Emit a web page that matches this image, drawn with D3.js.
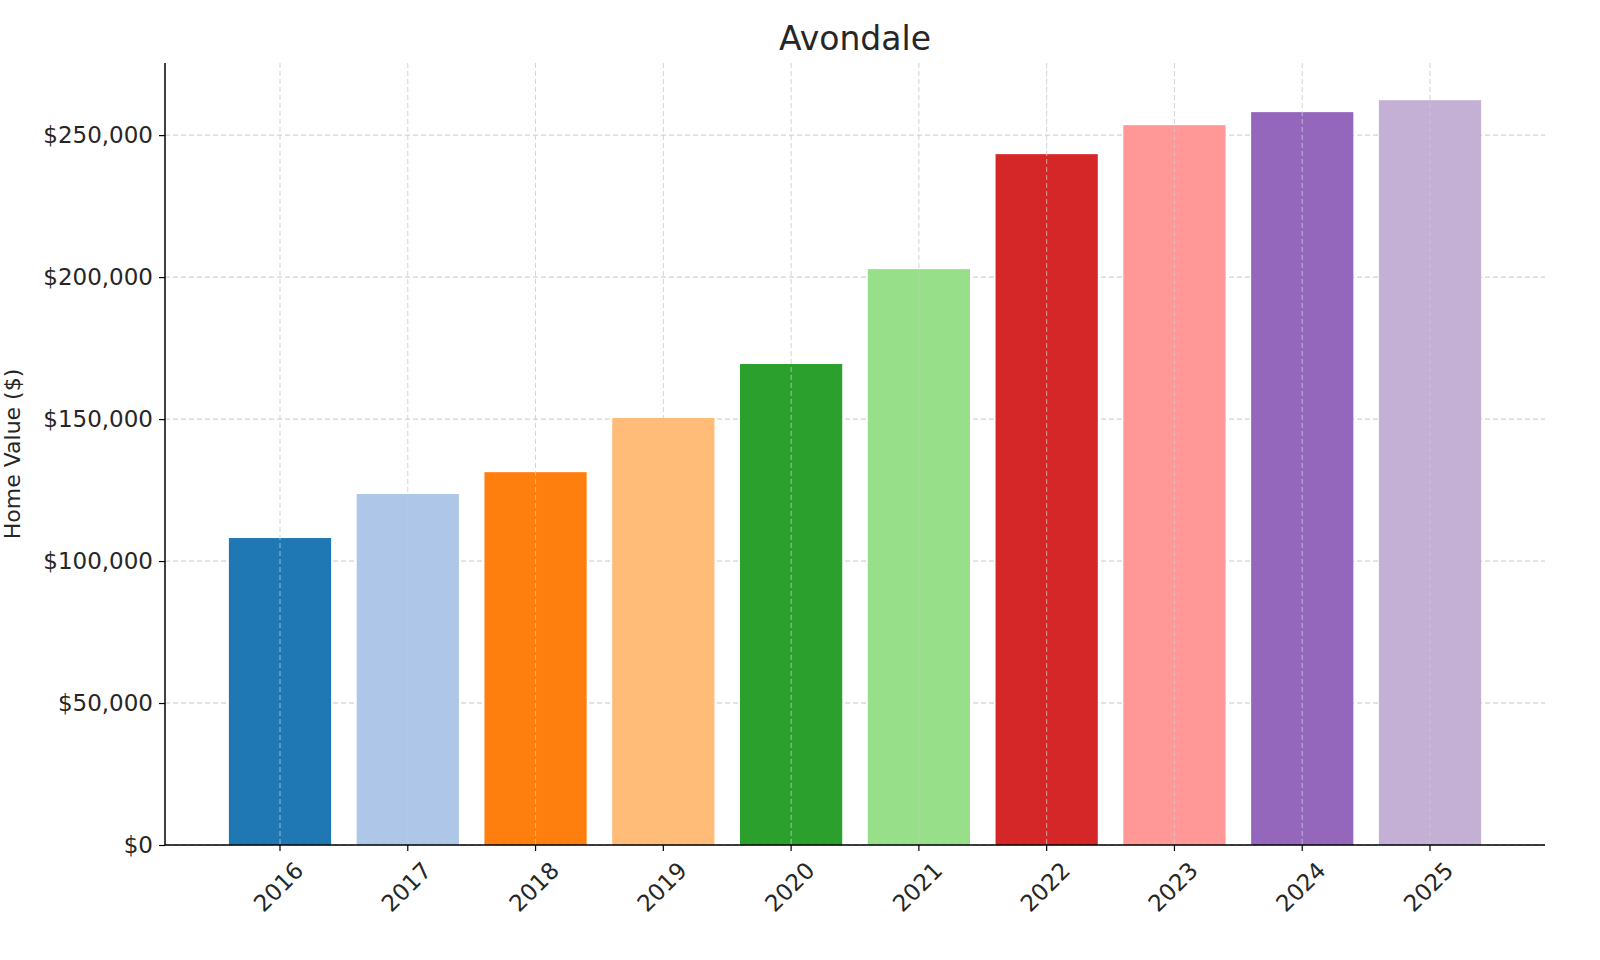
<!DOCTYPE html>
<html>
<head>
<meta charset="utf-8">
<script src="https://cdn.jsdelivr.net/npm/d3@7"></script>
<style>
  body { margin: 0; background: #fff; }
  text { font-family: "DejaVu Sans", sans-serif; fill: #262626; }
</style>
</head>
<body>
<svg id="chart" width="1600" height="960"></svg>
<script>
const years = ["2016", "2017", "2018", "2019", "2020", "2021", "2022", "2023", "2024", "2025"];
const values = [108100, 123600, 131300, 150400, 169400, 202800, 243300, 253500, 258100, 262300];
const colors = ["#1f77b4", "#aec7e8", "#ff7f0e", "#ffbb78", "#2ca02c", "#98df8a", "#d62728", "#ff9896", "#9467bd", "#c5b0d5"];
const yTicks = [0, 50000, 100000, 150000, 200000, 250000];

const margin = { top: 63, right: 55, bottom: 115, left: 165 };
const width = 1600 - margin.left - margin.right;
const height = 960 - margin.top - margin.bottom;

const svg = d3.select("#chart");
const g = svg.append("g").attr("transform", `translate(${margin.left},${margin.top})`);

const x = d3.scaleBand().domain(years).range([0, width]).paddingInner(0.2).paddingOuter(0.5);
const y = d3.scaleLinear().domain([0, 275400]).range([height, 0]);

// grid
g.selectAll(".hgrid").data(yTicks).join("line")
  .attr("x1", 0).attr("x2", width)
  .attr("y1", d => y(d)).attr("y2", d => y(d))
  .attr("stroke", "#c8c8c8").attr("stroke-dasharray", "5,3").attr("stroke-width", 1);

// bars
g.selectAll("rect").data(years).join("rect")
  .attr("x", d => x(d)).attr("width", x.bandwidth())
  .attr("y", (d, i) => y(values[i])).attr("height", (d, i) => height - y(values[i]))
  .attr("fill", (d, i) => colors[i]);

g.selectAll(".vgrid").data(years).join("line")
  .attr("x1", d => x(d) + x.bandwidth() / 2).attr("x2", d => x(d) + x.bandwidth() / 2)
  .attr("y1", 0).attr("y2", height)
  .attr("stroke", "#c8c8c8").attr("stroke-opacity", 0.8).attr("stroke-dasharray", "5,3").attr("stroke-width", 1);

// axes
const yAxis = g.append("g")
  .call(d3.axisLeft(y).tickValues(yTicks).tickFormat(d => "$" + d3.format(",")(d)).tickSize(6).tickPadding(6));
const xAxis = g.append("g").attr("transform", `translate(0,${height})`)
  .call(d3.axisBottom(x).tickSize(6).tickPadding(6));

[xAxis, yAxis].forEach(a => {
  a.select(".domain").attr("stroke", "#000").attr("stroke-width", 1.5);
  a.selectAll(".tick line").attr("stroke", "#000").attr("stroke-width", 1.2);
  a.selectAll("text").style("font-size", "23px").attr("fill", "#262626");
});
xAxis.select(".domain").attr("d", `M0,0H${width}`);
yAxis.select(".domain").attr("d", `M0,0V${height}`);

xAxis.selectAll("text")
  .attr("text-anchor", "end")
  .attr("dx", "0.2em").attr("dy", "0.9em")
  .attr("transform", "rotate(-45) translate(-6,4)");

svg.append("text")
  .attr("x", margin.left + width / 2).attr("y", 50)
  .attr("text-anchor", "middle").style("font-size", "33px")
  .text("Avondale");

svg.append("text")
  .attr("transform", `translate(20,${margin.top + height / 2}) rotate(-90)`)
  .attr("text-anchor", "middle").style("font-size", "22px")
  .text("Home Value ($)");
</script>
</body>
</html>
